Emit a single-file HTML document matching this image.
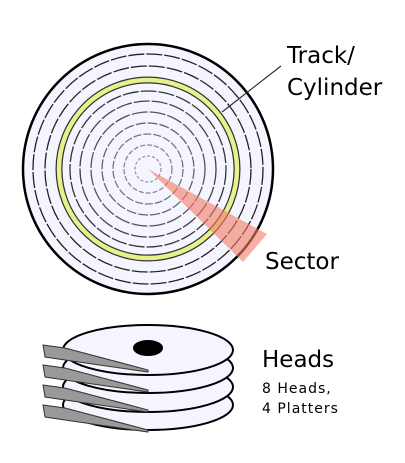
<!DOCTYPE html>
<html><head><meta charset="utf-8"><style>html,body{margin:0;padding:0;background:#fff}svg{display:block}text{font-family:"DejaVu Sans","Liberation Sans",sans-serif;fill:#000}</style></head>
<body>
<svg width="405" height="463" viewBox="0 0 405 463">
<g>
<circle cx="148" cy="169" r="125" fill="#f5f5ff" stroke="#000" stroke-width="2.5"/>
<circle cx="148" cy="169" r="89" fill="none" stroke="#333" stroke-width="7"/>
<circle cx="148" cy="169" r="89" fill="none" stroke="#e6f08c" stroke-width="4.5"/>
<g fill="none" stroke="#222" stroke-width="1.3" stroke-dasharray="16 2">
<circle cx="148" cy="169" r="115"/><circle cx="148" cy="169" r="103"/>
<circle cx="148" cy="169" r="78" stroke="#333"/><circle cx="148" cy="169" r="68" stroke="#444"/>
<circle cx="148" cy="169" r="57" stroke="#555"/><circle cx="148" cy="169" r="46" stroke="#666" stroke-dasharray="10 2"/>
<circle cx="148" cy="169" r="35" stroke="#777" stroke-dasharray="8 2"/><circle cx="148" cy="169" r="24" stroke="#888" stroke-dasharray="5 2"/>
<circle cx="148" cy="169" r="13" stroke="#999" stroke-dasharray="3 2"/>
</g>
<path d="M148,169 L267,234 L243,262 Z" fill="#f47c64" fill-opacity="0.6"/>
<line x1="222" y1="112" x2="281" y2="66" stroke="#333" stroke-width="1.2"/>
</g>
<text x="287" y="63" font-size="23">Track/</text>
<text x="287" y="95" font-size="23">Cylinder</text>
<text x="265" y="269" font-size="23">Sector</text>
<g fill="#f5f5ff" stroke="#000" stroke-width="2">
<ellipse cx="148" cy="405" rx="85" ry="25"/>
<ellipse cx="148" cy="387" rx="85" ry="25"/>
<ellipse cx="148" cy="368" rx="85" ry="25"/>
<ellipse cx="148" cy="350" rx="85" ry="25"/>
<ellipse cx="148" cy="348" rx="14" ry="7" fill="#000"/>
</g>
<g fill="#999" stroke="#333" stroke-width="1">
<path d="M43,345 L65,348 L148,370 L148,372 L65,360 L45,357 Z"/>
<path d="M43,365 L65,368 L148,390 L148,392 L65,380 L45,377 Z"/>
<path d="M43,385 L65,388 L148,410 L148,412 L65,400 L45,397 Z"/>
<path d="M43,405 L65,408 L148,430 L148,432 L65,420 L45,417 Z"/>
</g>
<text x="262" y="367" font-size="23">Heads</text>
<text x="262" y="393" font-size="14" letter-spacing="1">8 Heads,</text>
<text x="262" y="413" font-size="14" letter-spacing="1">4 Platters</text>
</svg>
</body></html>
